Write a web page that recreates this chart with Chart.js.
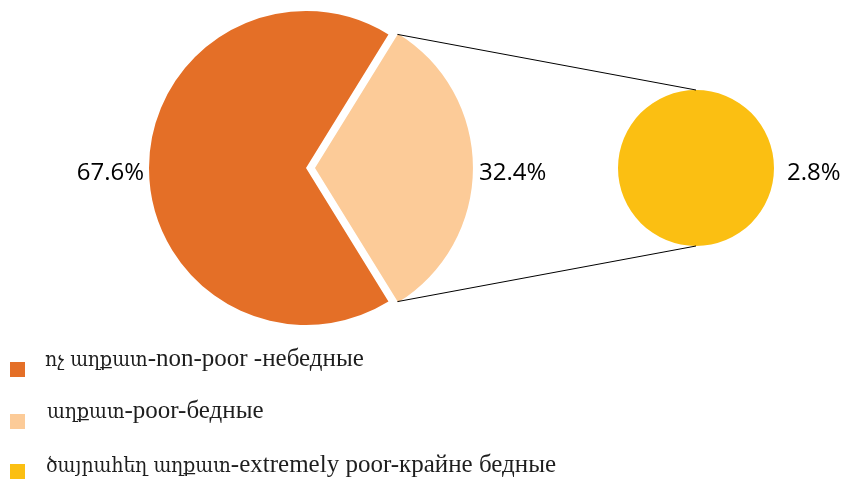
<!DOCTYPE html>
<html>
<head>
<meta charset="utf-8">
<script src="https://cdn.jsdelivr.net/npm/chart.js@4/dist/chart.umd.min.js"></script>
<style>
  body { margin: 0; background: #fff; }
  #wrap { position: relative; width: 841px; height: 480px; }
  #wrap canvas { position: absolute; left: 0; top: 0; }
</style>
</head>
<body>
<div id="wrap">
  <canvas id="mainPie" width="841" height="480"></canvas>
  <canvas id="subPie" width="841" height="480"></canvas>
</div>
<script>
var LABELS = ["ոչ աղքատ-non-poor -небедные", "աղքատ-poor-бедные", "ծայրահեղ աղքատ-extremely poor-крайне бедные"];
var MAIN_VALUES = [67.6, 32.4];
var SUB_VALUES = [2.8];
var COLORS = ["#e46f27", "#fccb98", "#fbbf12"];

var PCT_FONT = '24px "Open Sans"';
var LATIN_FONT = '25px "Liberation Serif", serif';
var ARM_FONT = '21px "DejaVu Serif", serif';
var ARM_SCALE = 0.9;
var EXPLODE = 9; // px the "poor" wedge is pulled out

function pct(v) { return v.toFixed(1) + "%"; }

// armenian runs and latin/cyrillic runs use different faces, like the original
function drawMixed(ctx, text, x, y) {
	var runs = text.match(/[\u0530-\u058F]+(?:\s+[\u0530-\u058F]+)*|[^\u0530-\u058F]+/g);
	runs.forEach(function (run) {
		if (/[\u0530-\u058F]/.test(run)) {
			ctx.font = ARM_FONT;
			ctx.save();
			ctx.translate(x, y);
			ctx.scale(ARM_SCALE, 1);
			ctx.fillText(run, 0, 0);
			ctx.restore();
			x += ctx.measureText(run).width * ARM_SCALE;
		} else {
			ctx.font = LATIN_FONT;
			ctx.fillText(run, x, y);
			x += ctx.measureText(run).width;
		}
	});
}

// slice center of the "poor" wedge faces right
var mainTotal = MAIN_VALUES[0] + MAIN_VALUES[1];
var mainRotation = 90 + MAIN_VALUES[1] / mainTotal * 180;

var mainLabels = {
	id: "mainLabels",
	afterDraw: function (chart) {
		var ctx = chart.ctx;
		var arcs = chart.getDatasetMeta(0).data;
		var a0 = arcs[0], a1 = arcs[1];
		ctx.save();
		ctx.fillStyle = "#000";
		ctx.font = PCT_FONT;
		ctx.textBaseline = "alphabetic";
		ctx.textAlign = "right";
		ctx.fillText(pct(MAIN_VALUES[0]), a0.x - a0.outerRadius - 5, a0.y + 12);
		ctx.textAlign = "left";
		ctx.fillText(pct(MAIN_VALUES[1]), a1.x + EXPLODE + a1.outerRadius + 7, a1.y + 12);

		// legend
		var rows = [
			{ box: 362, text: 366, x: 45 },
			{ box: 414, text: 418, x: 47 },
			{ box: 464, text: 472, x: 46 }
		];
		for (var i = 0; i < LABELS.length; i++) {
			ctx.fillStyle = COLORS[i];
			ctx.fillRect(10, rows[i].box, 15, 15);
			ctx.fillStyle = "#1e1e1e";
			drawMixed(ctx, LABELS[i], rows[i].x, rows[i].text);
		}
		ctx.restore();
	}
};

var mainChart = new Chart(document.getElementById("mainPie"), {
	type: "pie",
	data: {
		labels: LABELS.slice(0, 2),
		datasets: [{
			data: MAIN_VALUES,
			backgroundColor: COLORS.slice(0, 2),
			borderWidth: 0,
			offset: [0, EXPLODE * 4]  // chart.js v4 moves arcs by offset/4
		}]
	},
	options: {
		responsive: false,
		animation: false,
		radius: 157,
		rotation: mainRotation,
		layout: { padding: { left: 149, right: 378, top: 11, bottom: 155 } },
		plugins: { legend: { display: false }, tooltip: { enabled: false } }
	},
	plugins: [mainLabels]
});

var subLabels = {
	id: "subLabels",
	afterDraw: function (chart) {
		var ctx = chart.ctx;
		var c = chart.getDatasetMeta(0).data[0];
		var big = mainChart.getDatasetMeta(0).data[1];
		var mid = (big.startAngle + big.endAngle) / 2;
		var bx = big.x + Math.cos(mid) * EXPLODE;
		var by = big.y + Math.sin(mid) * EXPLODE;
		var r = big.outerRadius;
		ctx.save();
		ctx.strokeStyle = "#000";
		ctx.lineWidth = 1;
		ctx.beginPath();
		ctx.moveTo(bx + r * Math.cos(big.startAngle), by + r * Math.sin(big.startAngle));
		ctx.lineTo(c.x, c.y - c.outerRadius);
		ctx.moveTo(bx + r * Math.cos(big.endAngle), by + r * Math.sin(big.endAngle));
		ctx.lineTo(c.x, c.y + c.outerRadius);
		ctx.stroke();
		ctx.fillStyle = "#000";
		ctx.font = PCT_FONT;
		ctx.textAlign = "left";
		ctx.fillText(pct(SUB_VALUES[0]), c.x + c.outerRadius + 13, c.y + 12);
		ctx.restore();
	}
};

new Chart(document.getElementById("subPie"), {
	type: "pie",
	data: {
		labels: LABELS.slice(2),
		datasets: [{
			data: SUB_VALUES,
			backgroundColor: COLORS.slice(2),
			borderWidth: 0
		}]
	},
	options: {
		responsive: false,
		animation: false,
		radius: 78,
		layout: { padding: { left: 618, right: 67, top: 90, bottom: 234 } },
		plugins: { legend: { display: false }, tooltip: { enabled: false } }
	},
	plugins: [subLabels]
});
</script>
</body>
</html>
